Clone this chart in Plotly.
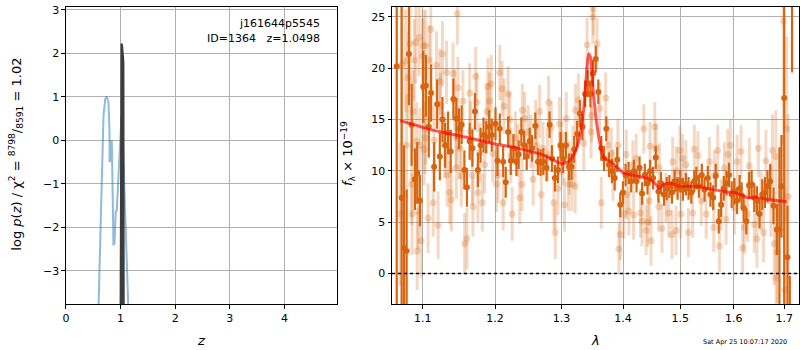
import plotly.graph_objects as go

# ---------------- left panel: log p(z) ----------------
z_blue = [0.588, 0.596, 0.614, 0.638, 0.663, 0.687, 0.718, 0.747, 0.778, 0.796, 0.798, 0.808,
          0.820, 0.838, 0.844, 0.856, 0.869, 0.887, 0.911, 0.929, 0.960, 0.991, 1.015, 1.038,
          1.064, 1.093, 1.124, 1.142, 1.150]
logp_blue = [-4.2, -3.78, -2.92, -1.41, -0.04, 0.57, 0.95, 1.01, 0.87, 0.26, -0.5, 0.0,
             -0.49, 0.0, -0.4, -1.1, -2.39, -2.38, -1.63, -1.62, -0.87, 0.11, 0.53, 0.11,
             -0.8, -2.16, -3.3, -3.78, -4.2]

z_black = [0.994, 1.000, 1.012, 1.030, 1.038, 1.048, 1.056, 1.062]
logp_black = [-4.2, 1.8, 2.22, 2.2, 2.0, 2.03, 1.8, -4.2]

# ---------------- right panel: spectrum ----------------
dark_wave = [1.0659, 1.0722, 1.0752, 1.0787, 1.0817, 1.0852, 1.0895, 1.0925, 1.0961, 1.1004,
             1.1040, 1.1079, 1.1110, 1.1150, 1.1191, 1.1227, 1.1263, 1.1299, 1.1339, 1.1375,
             1.1412, 1.1453, 1.1489, 1.1526, 1.1564, 1.1600, 1.1638, 1.1676, 1.1712, 1.1754,
             1.1792, 1.1834, 1.1873, 1.1915, 1.1952,
             1.2006, 1.2034, 1.2068, 1.2117, 1.2155, 1.2191, 1.2229, 1.2268, 1.2312, 1.2346,
             1.2386, 1.2427, 1.2466, 1.2511, 1.2547, 1.2596, 1.2637, 1.2676, 1.2718, 1.2768,
             1.2814, 1.2851, 1.2897, 1.2944, 1.2984, 1.3026, 1.3069, 1.3116, 1.3157, 1.3200,
             1.3247, 1.3290, 1.3332, 1.3375, 1.3418, 1.3460, 1.3503, 1.3547, 1.3589, 1.3638,
             1.3683, 1.3720, 1.3765, 1.3815, 1.3860, 1.3903, 1.3953, 1.3998,
             1.4043, 1.4094, 1.4138, 1.4184, 1.4230, 1.4281, 1.4325, 1.4372, 1.4419, 1.4464,
             1.4516, 1.4563, 1.4610, 1.4655, 1.4708, 1.4756, 1.4804, 1.4850, 1.4898, 1.4951,
             1.4999, 1.5047, 1.5101, 1.5150, 1.5200, 1.5255,
             1.5292, 1.5339, 1.5394, 1.5444, 1.5505, 1.5555, 1.5606, 1.5655, 1.5711, 1.5756,
             1.5806, 1.5857, 1.5908, 1.5958, 1.6010, 1.6062, 1.6112, 1.6150, 1.6189, 1.6242,
             1.6295, 1.6346, 1.6399, 1.6452, 1.6503, 1.6557, 1.6610, 1.6662, 1.6715, 1.6782,
             1.6851, 1.6903, 1.6944, 1.7000, 1.7067, 1.7115, 1.7162]
dark_flux = [20.2, 7.4, 2.5, 2.2, 21.4, 14.5, 9.2, 9.8, 7.1, 18.2,
             18.3, 14.3, 17.6, 10.4, 16.5, 11.4, 15.0, 12.5, 13.7, 11.9,
             17.0, 15.1, 14.1, 14.5, 10.1, 8.4, 12.9, 12.2, 15.8, 10.1,
             12.5, 13.5, 13.3, 14.3, 13.5,
             14.6, 11.0, 14.1, 10.9, 8.9, 13.8, 11.0, 12.2, 10.9, 11.6,
             13.8, 12.5, 11.4, 12.9, 12.2, 14.4, 10.9, 10.8, 10.9, 10.3,
             14.5, 11.2, 9.3, 10.1, 12.5, 11.1, 12.5, 10.4, 10.4, 12.1,
             13.6, 15.6, 14.3, 17.5, 18.5, 17.5, 19.5, 20.9, 17.7, 12.2,
             11.2, 14.1, 10.6, 10.0, 9.3, 11.1, 6.7, 7.9,
             9.6, 9.8, 9.0, 10.0, 9.0, 10.3, 7.8, 9.6, 8.8, 10.0,
             9.3, 11.3, 8.0, 8.8, 7.7, 8.3, 8.5, 7.9, 9.0, 8.3,
             9.0, 8.2, 8.7, 8.3, 7.9, 9.0,
             9.3, 8.5, 9.6, 8.2, 9.3, 7.7, 7.4, 9.5, 5.1, 6.7,
             8.3, 8.8, 9.6, 7.7, 8.0, 7.1, 8.3, 7.6, 6.4, 5.1,
             8.6, 8.7, 7.4, 7.1, 5.8, 7.7, 7.9, 8.5, 9.0, 6.6,
             4.3, 4.3, 8.5, 17.1, 1.6, -5.0, 32.0]
dark_err = [24.0, 19.0, 10.0, 6.0, 5.0, 4.0, 3.0, 3.0, 2.5, 3.5,
            3.0, 3.0, 2.8, 2.4, 2.4, 2.3, 2.2, 2.2, 2.1, 2.1,
            2.0, 2.0, 2.0, 1.9, 1.9, 1.9, 1.8, 1.8, 1.8, 1.7,
            1.7, 1.7, 1.6, 1.6, 1.6,
            1.6, 1.5, 1.5, 1.5, 1.5, 1.5, 1.4, 1.4, 1.4, 1.4,
            1.4, 1.4, 1.3, 1.3, 1.3, 1.3, 1.3, 1.3, 1.3, 1.3,
            1.3, 1.3, 1.3, 1.3, 1.3, 1.3, 1.3, 1.3, 1.3, 1.3,
            1.3, 1.3, 1.3, 1.3, 1.3, 1.3, 1.3, 1.3, 1.2, 1.2,
            1.2, 1.2, 1.2, 1.2, 1.2, 1.2, 1.2, 1.1,
            1.1, 1.1, 1.1, 1.1, 1.1, 1.1, 1.1, 1.1, 1.1, 1.1,
            1.1, 1.1, 1.1, 1.1, 1.1, 1.1, 1.1, 1.1, 1.1, 1.1,
            1.1, 1.1, 1.1, 1.1, 1.1, 1.1,
            1.1, 1.1, 1.1, 1.2, 1.2, 1.2, 1.2, 1.2, 1.2, 1.2,
            1.2, 1.2, 1.2, 1.3, 1.3, 1.3, 1.3, 1.3, 1.3, 1.3,
            1.3, 1.4, 1.4, 1.4, 1.4, 1.5, 1.5, 1.6, 1.7, 1.8,
            2.5, 8.0, 5.0, 22.0, 5.0, 4.8, 12.4]

light_wave = [1.0704, 1.0726, 1.0774, 1.0787, 1.0808, 1.0830, 1.0853, 1.0858, 1.0873, 1.0886,
              1.0908, 1.0917, 1.0925, 1.0938, 1.0951, 1.0961, 1.0974, 1.0996, 1.1004, 1.1017,
              1.1027, 1.1036, 1.1040, 1.1070, 1.1083, 1.1106, 1.1137, 1.1150, 1.1182, 1.1204,
              1.1227, 1.1236, 1.1263, 1.1295, 1.1318, 1.1326, 1.1362, 1.1385, 1.1407, 1.1430,
              1.1450, 1.1453, 1.1467, 1.1475, 1.1499, 1.1522, 1.1544, 1.1568, 1.1600, 1.1638,
              1.1650, 1.1676, 1.1684, 1.1722, 1.1740, 1.1754, 1.1780, 1.1816, 1.1849, 1.1882,
              1.1896, 1.1920, 1.1944, 1.1967,
              1.2020, 1.2045, 1.2068, 1.2102, 1.2117, 1.2132, 1.2190, 1.2214, 1.2230, 1.2249,
              1.2298, 1.2330, 1.2361, 1.2396, 1.2401, 1.2436, 1.2487, 1.2526, 1.2562, 1.2601,
              1.2620, 1.2661, 1.2687, 1.2713, 1.2780, 1.2799, 1.2840, 1.2882, 1.2902, 1.2944,
              1.2969, 1.2995, 1.3022, 1.3047, 1.3074, 1.3110, 1.3120, 1.3163, 1.3180, 1.3216,
              1.3220, 1.3268, 1.3354, 1.3407, 1.3471, 1.3479, 1.3499, 1.3508,
              1.3568, 1.3612, 1.3638, 1.3711, 1.3748, 1.3803, 1.3831, 1.3914, 1.3931, 1.3953,
              1.4015, 1.4054, 1.4062, 1.4099, 1.4167, 1.4179, 1.4223, 1.4298, 1.4325, 1.4355,
              1.4394, 1.4424, 1.4453, 1.4464, 1.4481, 1.4546, 1.4568, 1.4615, 1.4627, 1.4673,
              1.4744, 1.4792, 1.4850, 1.4863, 1.4922, 1.4931, 1.4993, 1.5010, 1.5041, 1.5101,
              1.5145, 1.5224, 1.5255,
              1.5321, 1.5383, 1.5475, 1.5536, 1.5617, 1.5630, 1.5692, 1.5724, 1.5756, 1.5819,
              1.5851, 1.5882, 1.5933, 1.6010, 1.6062, 1.6139, 1.6170, 1.6203, 1.6267, 1.6301,
              1.6399, 1.6452, 1.6478, 1.6531, 1.6583, 1.6630, 1.6729, 1.6761, 1.6796, 1.6830,
              1.6836, 1.6862, 1.6984, 1.7013, 1.7054, 1.7080]
light_flux = [5.8, 20.4, 20.7, 12.5, 19.1, 22.4, 8.7, 5.8, 15.8, 20.8,
              22.5, 12.9, 2.2, 6.1, 23.0, 12.5, 3.2, 21.2, 22.2, 12.1,
              13.2, 22.2, 14.1, 5.4, 20.8, 23.8, 6.9, 13.0, 20.3, 4.7,
              18.7, 16.4, 21.4, 12.5, 19.6, 9.6, 7.9, 7.2, 19.5, 16.9,
              13.2, 10.3, 25.3, 18.1, 12.2, 9.5, 16.8, 2.9, 3.4, 17.6,
              13.9, 9.6, 6.5, 19.2, 16.7, 7.9, 11.8, 6.9, 10.6, 15.8,
              18.2, 16.8, 18.5, 11.7,
              8.7, 9.6, 19.6, 18.0, 6.9, 16.3, 17.5, 15.0, 11.5, 5.8,
              13.2, 12.0, 7.4, 8.7, 15.9, 15.1, 13.8, 12.9, 9.2, 14.3,
              12.5, 15.8, 7.7, 12.2, 11.6, 16.7, 14.2, 6.9, 4.0, 8.3,
              14.6, 12.2, 11.2, 6.7, 15.1, 8.7, 10.3, 8.7, 11.8, 8.5,
              15.9, 16.9, 12.7, 22.3, 13.8, 15.4, 25.0, 25.8,
              22.4, 16.1, 6.9, 17.1, 12.5, 11.7, 9.6, 12.5, 2.4, 3.8,
              5.8, 11.6, 7.7, 6.1, 10.6, 5.7, 11.2, 5.9, 5.1, 14.1,
              4.2, 5.0, 7.1, 12.4, 3.2, 14.3, 12.2, 6.5, 10.3, 4.4,
              7.4, 5.9, 3.8, 10.9, 4.2, 10.0, 12.0, 5.8, 11.2, 10.6,
              4.0, 5.9, 12.1,
              11.5, 7.1, 5.8, 10.9, 4.5, 9.6, 12.0, 2.7, 6.7, 10.3,
              5.3, 11.6, 12.5, 6.4, 10.9, 11.9, 2.5, 4.5, 5.8, 10.5,
              4.8, 3.4, 12.2, 7.1, 4.0, 11.0, 7.1, 12.0, 2.9, 11.4,
              -0.4, 2.1, 24.6, -1.6, 14.1, 7.5]
light_err = [7.0, 8.0, 5.0, 5.0, 4.5, 4.5, 4.0, 4.0, 4.0, 4.0,
             4.0, 3.8, 3.8, 3.8, 3.8, 3.6, 3.6, 3.6, 3.5, 3.5,
             3.5, 3.5, 3.5, 3.4, 3.4, 3.4, 3.3, 3.3, 3.3, 3.3,
             3.2, 3.2, 3.2, 3.2, 3.1, 3.1, 3.1, 3.1, 3.0, 3.0,
             3.0, 3.0, 3.0, 3.0, 3.0, 3.0, 3.0, 3.0, 3.0, 2.9,
             2.9, 2.9, 2.9, 2.9, 2.9, 2.9, 2.9, 2.8, 2.8, 2.8,
             2.8, 2.8, 2.8, 2.8,
             2.7, 2.7, 2.7, 2.7, 2.7, 2.7, 2.7, 2.7, 2.7, 2.6,
             2.6, 2.6, 2.6, 2.6, 2.6, 2.6, 2.6, 2.6, 2.6, 2.6,
             2.6, 2.6, 2.6, 2.6, 2.6, 2.6, 2.6, 2.6, 2.6, 2.6,
             2.6, 2.6, 2.6, 2.6, 2.6, 2.6, 2.6, 2.6, 2.6, 2.6,
             2.6, 2.6, 2.6, 2.6, 2.6, 2.6, 2.6, 2.6,
             2.5, 2.5, 2.5, 2.5, 2.5, 2.5, 2.5, 2.5, 2.5, 2.5,
             2.4, 2.4, 2.4, 2.4, 2.4, 2.4, 2.4, 2.4, 2.4, 2.4,
             2.4, 2.4, 2.4, 2.4, 2.4, 2.4, 2.4, 2.4, 2.4, 2.4,
             2.4, 2.4, 2.4, 2.4, 2.4, 2.4, 2.4, 2.4, 2.4, 2.4,
             2.4, 2.4, 2.4,
             2.4, 2.4, 2.4, 2.4, 2.4, 2.4, 2.5, 2.5, 2.5, 2.5,
             2.5, 2.5, 2.5, 2.6, 2.6, 2.6, 2.6, 2.6, 2.7, 2.7,
             2.8, 2.8, 2.8, 2.9, 2.9, 3.0, 3.5, 3.5, 4.0, 4.5,
             5.0, 5.0, 12.0, 10.0, 9.0, 8.0]

model_wave = [1.0704, 1.1119, 1.1572, 1.1948, 1.2337, 1.2738, 1.2892, 1.3006, 1.3109, 1.3204,
              1.3284, 1.3348, 1.3391, 1.3429, 1.3460, 1.3498, 1.3552, 1.3622, 1.3687, 1.3798,
              1.3909, 1.4009, 1.4246, 1.4447, 1.4563, 1.4621, 1.4708, 1.4827, 1.5005, 1.5309,
              1.5494, 1.5806, 1.5997, 1.6125, 1.6256, 1.6452, 1.6715, 1.7054]
model_flux = [14.9, 14.0, 13.3, 12.7, 12.2, 11.5, 11.0, 10.7, 10.9, 11.7,
              13.2, 15.8, 19.0, 21.4, 21.1, 18.3, 15.1, 12.5, 11.2, 10.9,
              10.3, 9.8, 9.5, 9.2, 8.7, 8.3, 8.7, 8.8, 8.5, 8.5,
              8.3, 8.0, 7.9, 7.7, 7.4, 7.4, 7.2, 7.0]

left_xticks = [0, 1, 2, 3, 4]
left_yticks = [-3, -2, -1, 0, 1, 2, 3]
right_xticks = [1.1, 1.2, 1.3, 1.4, 1.5, 1.6, 1.7]
right_yticks = [0, 5, 10, 15, 20, 25]

DARK = "rgb(215,100,15)"
LIGHT = "rgba(215,100,15,0.25)"
FONT = "DejaVu Sans"

fig = go.Figure()

fig.add_trace(go.Scatter(x=z_blue, y=logp_blue, mode="lines",
                         line=dict(color="rgba(31,119,180,0.5)", width=2),
                         xaxis="x", yaxis="y", showlegend=False))
fig.add_trace(go.Scatter(x=z_black, y=logp_black, mode="lines", fill="toself",
                         fillcolor="rgb(60,60,60)",
                         line=dict(color="rgb(60,60,60)", width=1.5),
                         xaxis="x", yaxis="y", showlegend=False))

fig.add_trace(go.Scatter(x=light_wave, y=light_flux, mode="markers",
                         marker=dict(color=LIGHT, size=7, line=dict(width=0)),
                         error_y=dict(type="data", array=light_err, color=LIGHT,
                                      thickness=3, width=0),
                         xaxis="x2", yaxis="y2", showlegend=False))
fig.add_trace(go.Scatter(x=dark_wave, y=dark_flux, mode="markers",
                         marker=dict(color=DARK, size=6, line=dict(width=0)),
                         error_y=dict(type="data", array=dark_err, color=DARK,
                                      thickness=2.2, width=0),
                         xaxis="x2", yaxis="y2", showlegend=False))
fig.add_trace(go.Scatter(x=model_wave, y=model_flux, mode="lines",
                         line=dict(color="rgba(255,0,0,0.65)", width=3, shape="spline",
                                   smoothing=0.6),
                         xaxis="x2", yaxis="y2", showlegend=False))

axis_common = dict(showline=True, linecolor="black", linewidth=1, mirror=True,
                   ticks="outside", ticklen=3.5, tickwidth=1, tickcolor="black",
                   showgrid=True, gridcolor="#b0b0b0", gridwidth=1, zeroline=False,
                   tickfont=dict(family=FONT, size=11, color="black"))

y_dom = [1 - 304 / 350, 1 - 3.7 / 350]

fig.update_layout(
    width=800, height=350,
    margin=dict(l=0, r=0, t=0, b=0),
    paper_bgcolor="white", plot_bgcolor="white",
    xaxis=dict(domain=[62.3 / 800, 334.3 / 800], range=[0, 4.955], anchor="y",
               tickvals=left_xticks, ticktext=[str(v) for v in left_xticks], **axis_common),
    yaxis=dict(domain=y_dom, range=[-3.77, 3.075], anchor="x",
               tickvals=left_yticks, **axis_common),
    xaxis2=dict(domain=[390 / 800, 799 / 800], type="log", range=[0.02527, 0.2382],
                anchor="y2", tickvals=right_xticks,
                ticktext=[f"{v:.1f}" for v in right_xticks], **axis_common),
    yaxis2=dict(domain=y_dom, range=[-3.0, 26.0], anchor="x2",
                tickvals=right_yticks, **axis_common),
    shapes=[dict(type="line", xref="x2 domain", x0=0, x1=1, yref="y2", y0=0, y1=0,
                 line=dict(color="black", width=1.5, dash="dot"), layer="above")],
    annotations=[
        dict(text="j161644p5545", x=320 / 800, y=1 - 21 / 350, xref="paper", yref="paper",
             xanchor="right", yanchor="middle", showarrow=False,
             font=dict(family=FONT, size=11, color="black")),
        dict(text="ID=1364   z=1.0498", x=320 / 800, y=1 - 36 / 350, xref="paper",
             yref="paper", xanchor="right", yanchor="middle", showarrow=False,
             font=dict(family=FONT, size=11, color="black")),
        dict(text="<i>z</i>", x=198 / 800, y=1 - 340 / 350, xref="paper", yref="paper",
             xanchor="center", yanchor="middle", showarrow=False,
             font=dict(family=FONT, size=13, color="black")),
        dict(text="<i>λ</i>", x=594 / 800, y=1 - 340 / 350, xref="paper", yref="paper",
             xanchor="center", yanchor="middle", showarrow=False,
             font=dict(family=FONT, size=13, color="black")),
        dict(text="log <i>p</i>(<i>z</i>) / χ<sup>2</sup> = <sup>8798</sup>/<sub>8591</sub> = 1.02",
             x=12 / 800, y=1 - 152 / 350, xref="paper", yref="paper", textangle=-90,
             xanchor="center", yanchor="middle", showarrow=False,
             font=dict(family=FONT, size=13, color="black")),
        dict(text="<i>f</i><sub>λ</sub> × 10<sup>−19</sup>",
             x=345 / 800, y=1 - 152 / 350, xref="paper", yref="paper", textangle=-90,
             xanchor="center", yanchor="middle", showarrow=False,
             font=dict(family=FONT, size=13, color="black")),
        dict(text="Sat Apr 25 10:07:17 2020", x=745 / 800, y=1 - 341.5 / 350,
             xref="paper", yref="paper", xanchor="center", yanchor="middle",
             showarrow=False, font=dict(family=FONT, size=6.5, color="black")),
    ],
)

fig.write_html("out.html", config={"displayModeBar": False},
               post_script="document.body.style.margin='0px';document.body.style.overflow='hidden';")
